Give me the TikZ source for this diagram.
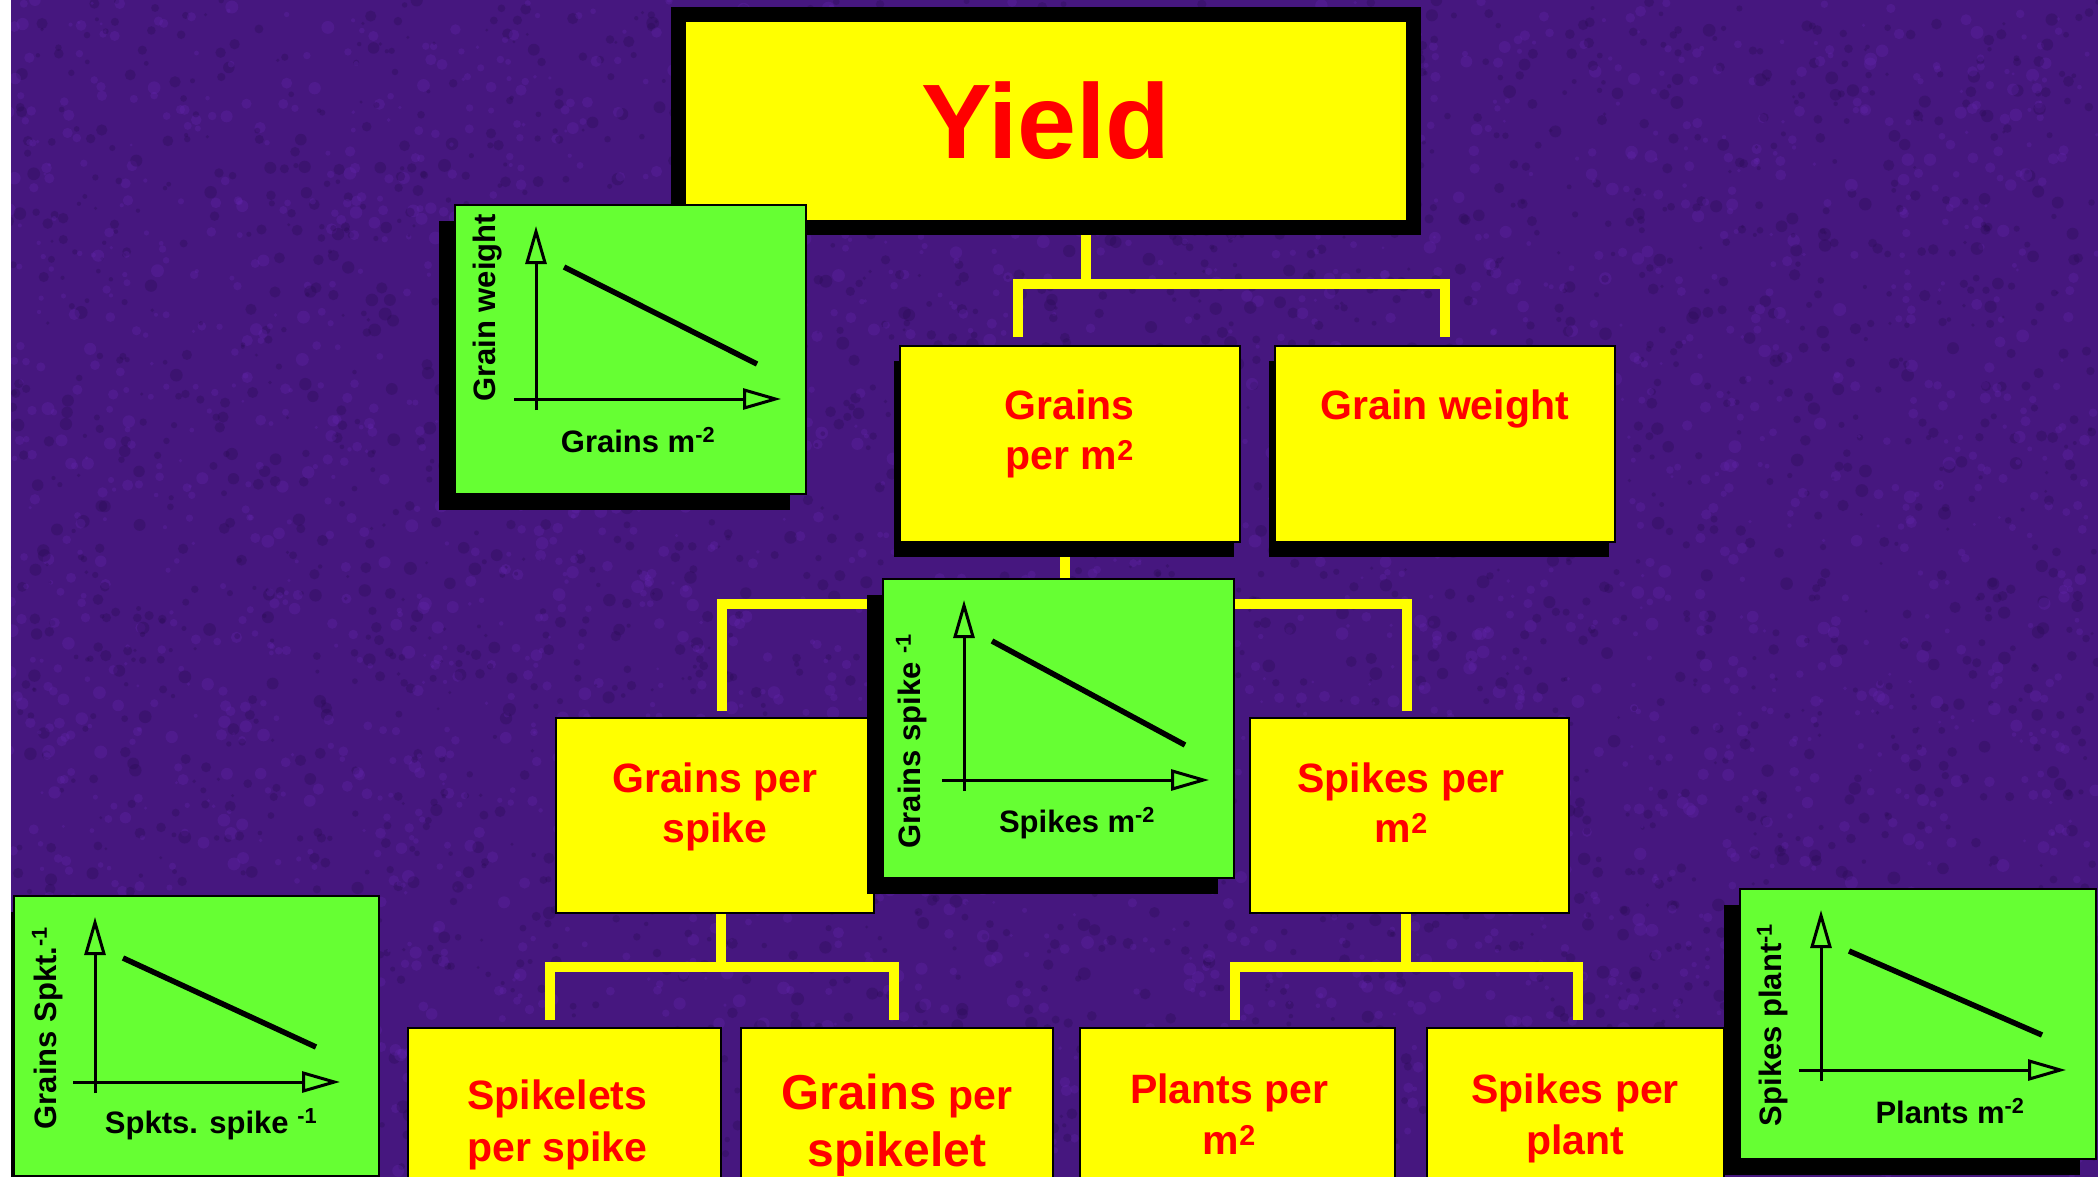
\documentclass[tikz,border=0pt]{standalone}
\usepackage{fontspec}
\setmainfont{Liberation Sans}
\usetikzlibrary{positioning,arrows.meta,calc,shadows}
\definecolor{bgpurple}{HTML}{46177F}
\definecolor{bgdark}{HTML}{280A50}
\definecolor{bglight}{HTML}{6A28B8}
\definecolor{boxyellow}{HTML}{FFFF00}
\definecolor{boxgreen}{HTML}{66FF33}
\definecolor{textred}{HTML}{FF0000}
\pgfdeclarelayer{back}
\pgfsetlayers{back,main}

\tikzset{
  ybox/.style={draw=black, line width=1.5pt, fill=boxyellow, anchor=north west,
    inner sep=0pt, minimum height=196pt},
  yshadow/.style={drop shadow={shadow xshift=-6pt, shadow yshift=-15pt, fill=black, opacity=1}},
  ytext/.style={anchor=north, align=center, inner sep=0pt, text=textred,
    font=\bfseries\fontsize{41}{50}\selectfont},
  gbox/.style={draw=black, line width=2pt, fill=boxgreen, anchor=north west, inner sep=0pt,
    drop shadow={shadow xshift=-16pt, shadow yshift=-16pt, fill=black, opacity=1}},
  ylab/.style={rotate=90, anchor=base, inner sep=0pt, font=\bfseries\fontsize{31}{36}\selectfont},
  xlab/.style={anchor=base, inner sep=0pt, font=\bfseries\fontsize{31}{36}\selectfont},
  axis/.style={line width=3pt, -{Triangle[open, length=38pt, width=21pt]}},
  trend/.style={line width=5.5pt},
  bus/.style={draw=boxyellow, line width=10pt, line join=miter}
}

% axes and falling line inside a green box
\newcommand{\miniplot}[2]{%
  \draw[axis] ($(#1.north west)+(82,#2+11)$) -- ($(#1.north west)+(82,22)$);
  \draw[axis] ($(#1.north west)+(60,#2)$) -- ($(#1.north west)+(327,#2)$);
  \draw[trend] ($(#1.north west)+(110,63)$) -- ($(#1.north west)+(303,#2-35)$);
}

\begin{document}
\begin{tikzpicture}[x=1pt,y=-1pt]
 \useasboundingbox (0,0) rectangle (2098,1177);
 \clip (0,0) rectangle (2098,1177);
 \begin{pgfonlayer}{back}
  \fill[bgpurple] (0,0) rectangle (2098,1177);
  % mottled ground
  \pgfmathsetseed{17}
  \foreach \i in {1,...,3000} {
   \fill[bgdark, opacity=0.3] (1049+1049*rand,588+588*rand) circle ({4+2.5*rand});
   \fill[bglight, opacity=0.25] (1049+1049*rand,588+588*rand) circle ({4+2.5*rand});
  }
 \end{pgfonlayer}

 % second row
 \node[ybox, yshadow, minimum width=340pt] (gpm) at (899,345) {};
 \node[ybox, yshadow, minimum width=340pt] (gw) at (1274,345) {};
 \node[ytext] (gpm-t) at ([yshift=-45pt]gpm.north) {Grains\\per m\textsuperscript{2}};
 \node[ytext] (gw-t) at ([yshift=-45pt]gw.north) {Grain weight};

 % third row
 \node[ybox, minimum width=318pt, minimum height=195pt] (gps) at (555,717) {};
 \node[ybox, minimum width=319pt, minimum height=195pt] (spm) at (1249,717) {};
 \node[ytext] (gps-t) at ([yshift=-46pt]gps.north) {Grains per\\spike};
 \node[ytext] (spm-t) at ([xshift=-8pt,yshift=-46pt]spm.north) {Spikes per\\m\textsuperscript{2}};

 % bottom row
 \node[ybox, minimum width=313pt, minimum height=185pt] (slt) at (407,1027) {};
 \node[ybox, minimum width=312pt, minimum height=185pt] (gpsl) at (740,1027) {};
 \node[ybox, minimum width=315pt, minimum height=185pt] (ppm) at (1079,1027) {};
 \node[ybox, minimum width=297pt, minimum height=185pt] (spp) at (1426,1027) {};
 \node[ytext, font=\bfseries\fontsize{41}{52}\selectfont] (slt-t) at ([xshift=-7pt,yshift=-53pt]slt.north) {Spikelets\\per spike};
 \node[ytext, font=\bfseries\fontsize{41}{57}\selectfont] (gpsl-t) at ([yshift=-47pt]gpsl.north)
   {{\fontsize{49}{57}\selectfont Grains} per\\{\fontsize{48}{57}\selectfont spikelet}};
 \node[ytext, font=\bfseries\fontsize{41}{51}\selectfont] (ppm-t) at ([xshift=-8pt,yshift=-47pt]ppm.north) {Plants per\\m\textsuperscript{2}};
 \node[ytext, font=\bfseries\fontsize{41}{51}\selectfont] (spp-t) at ([yshift=-47pt]spp.north) {Spikes per\\plant};

 % top box
 \node[draw=black, line width=15pt, fill=boxyellow, minimum width=735pt, minimum height=213pt,
   text=textred, font=\bfseries\fontsize{106}{120}\selectfont] (yield) at (1046,121) {Yield};

 % tree lines
 \begin{pgfonlayer}{back}
  \coordinate (j1) at (1086,284);
  \coordinate (j2) at (1065,604);
  \coordinate (j3) at (721,967);
  \coordinate (j4) at (1406,967);
  \draw[bus] (j1 |- yield.south) -- (j1);
  \draw[bus] ([xshift=-52pt,yshift=8pt]gpm.north) |- (j1) -| ([yshift=8pt]gw.north);
  \draw[bus] (j2 |- gpm.south) -- (j2);
  \draw[bus] ([xshift=7pt,yshift=6pt]gps.north) |- (j2) -| ([xshift=-2pt,yshift=6pt]spm.north);
  \draw[bus] (j3 |- gps.south) -- (j3);
  \draw[bus] ([xshift=-14pt,yshift=7pt]slt.north) |- (j3) -| ([xshift=-3pt,yshift=7pt]gpsl.north);
  \draw[bus] (j4 |- spm.south) -- (j4);
  \draw[bus] ([xshift=-2pt,yshift=7pt]ppm.north) |- (j4) -| ([xshift=3pt,yshift=7pt]spp.north);
 \end{pgfonlayer}

 % green plots
 \node[gbox, minimum width=351pt, minimum height=289pt] (gwplot) at (454,204) {};
 \miniplot{gwplot}{195}
 \node[ylab] (gwplot-y) at ($(gwplot.north west)+(41,104)$) {Grain weight};
 \node[xlab] (gwplot-x) at ($(gwplot.north west)+(184,248)$) {Grains m\textsuperscript{-2}};

 \node[gbox, minimum width=351pt, minimum height=299pt] (gsplot) at (882,578) {};
 \miniplot{gsplot}{202}
 \node[ylab] (gsplot-y) at ($(gsplot.north west)+(38,163)$) {Grains spike \textsuperscript{-1}};
 \node[xlab] (gsplot-x) at ($(gsplot.north west)+(195,254)$) {Spikes m\textsuperscript{-2}};

 \node[gbox, minimum width=365pt, minimum height=280pt] (gkplot) at (13,895) {};
 \miniplot{gkplot}{187}
 \node[ylab] (gkplot-y) at ($(gkplot.north west)+(43,133)$) {Grains Spkt.\textsuperscript{-1}};
 \node[xlab] (gkplot-x) at ($(gkplot.north west)+(198,238)$) {Spkts. spike \textsuperscript{-1}};

 \node[gbox, minimum width=356pt, minimum height=270pt] (spplot) at (1739,888) {};
 \miniplot{spplot}{182}
 \node[ylab] (spplot-y) at ($(spplot.north west)+(42,137)$) {Spikes plant\textsuperscript{-1}};
 \node[xlab] (spplot-x) at ($(spplot.north west)+(211,235)$) {Plants m\textsuperscript{-2}};

 \fill[white] (0,0) rectangle (11,1177);
\end{tikzpicture}
\end{document}
